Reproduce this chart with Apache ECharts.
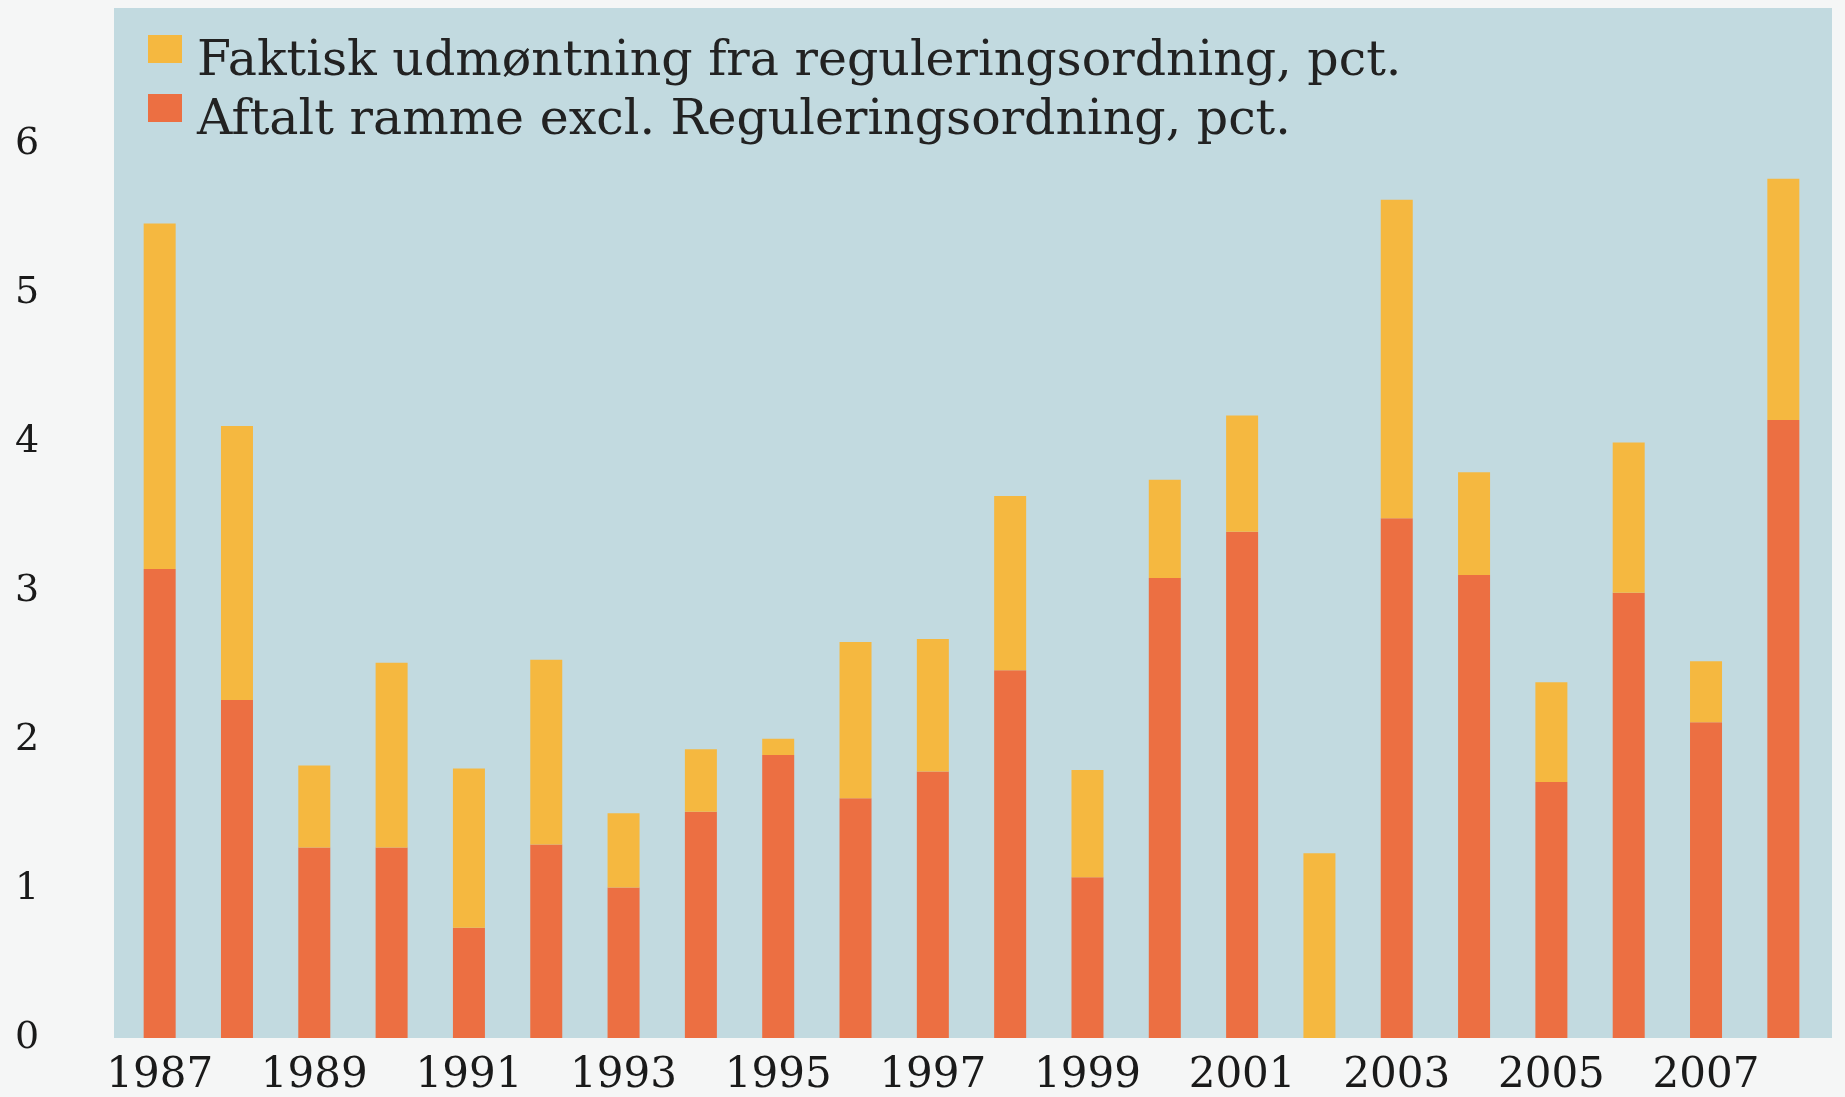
<!DOCTYPE html>
<html>
<head>
<meta charset="utf-8">
<script src="https://cdn.jsdelivr.net/npm/echarts@6/dist/echarts.min.js"></script>
<style>
html,body{margin:0;padding:0;background:#f5f6f6;}
#c{width:1845px;height:1097px;}
</style>
</head>
<body>
<div id="c"></div>
<script>
const years = ['1987','1988','1989','1990','1991','1992','1993','1994','1995','1996','1997','1998','1999','2000','2001','2002','2003','2004','2005','2006','2007','2008'];
const aftalt = [3.15, 2.27, 1.28, 1.28, 0.74, 1.30, 1.01, 1.52, 1.90, 1.61, 1.79, 2.47, 1.08, 3.09, 3.40, 0, 3.49, 3.11, 1.72, 2.99, 2.12, 4.15];
const faktisk = [2.32, 1.84, 0.55, 1.24, 1.07, 1.24, 0.50, 0.42, 0.11, 1.05, 0.89, 1.17, 0.72, 0.66, 0.78, 1.24, 2.14, 0.69, 0.67, 1.01, 0.41, 1.62];
const yTicks = [0, 1, 2, 3, 4, 5, 6];
const nameFaktisk = 'Faktisk udmøntning fra reguleringsordning, pct.';
const nameAftalt = 'Aftalt ramme excl. Reguleringsordning, pct.';

const chart = echarts.init(document.getElementById('c'), null, {renderer: 'canvas'});
const font = '"DejaVu Serif", "Liberation Serif", serif';
// legend swatch: 34x28 square sitting at the top of a 34x54 box, so the label sits a bit lower
const swatch = 'path://M0,0L34,0L34,28L0,28Z M0,54L0,54Z';
chart.setOption({
  backgroundColor: '#f5f6f6',
  animation: false,
  graphic: [{
    type: 'rect', z: -10, silent: true,
    shape: {x: 114, y: 8, width: 1718, height: 1030},
    style: {fill: '#c2dae0'}
  }],
  grid: {left: 121, right: 23, top: 144.6, bottom: 59, containLabel: false},
  legend: {
    data: [nameFaktisk, nameAftalt],
    orient: 'vertical',
    left: 143, top: 30, padding: 5,
    itemWidth: 34, itemHeight: 54, itemGap: 5,
    icon: swatch,
    textStyle: {fontFamily: font, fontSize: 49, color: '#222', lineHeight: 48, padding: [0, 0, 0, 10]}
  },
  xAxis: {
    type: 'category',
    data: years,
    axisLine: {show: false},
    axisTick: {show: false},
    axisLabel: {interval: 1, fontFamily: font, fontSize: 42, color: '#1a1a1a', margin: 17}
  },
  yAxis: {
    type: 'value',
    min: yTicks[0], max: yTicks[yTicks.length - 1], interval: 1,
    splitLine: {show: false},
    axisLine: {show: false},
    axisTick: {show: false},
    axisLabel: {fontFamily: font, fontSize: 38, color: '#1a1a1a', align: 'center', margin: 94}
  },
  series: [
    {name: nameAftalt, type: 'bar', stack: 'a', data: aftalt, barWidth: 32, itemStyle: {color: '#ec6f42'}},
    {name: nameFaktisk, type: 'bar', stack: 'a', data: faktisk, barWidth: 32, itemStyle: {color: '#f5b840'}}
  ]
});
</script>
</body>
</html>
